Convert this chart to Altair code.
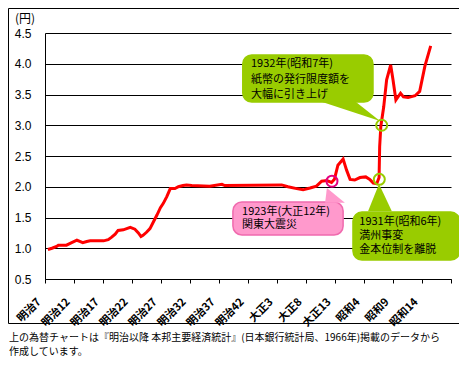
import altair as alt
import pandas as pd

# ---- data ----
years = [1874.0, 1874.7, 1875.5, 1875.8, 1877.2, 1878.1, 1879.0, 1879.5, 1880.0, 1880.7,
         1881.3, 1883.6, 1884.4, 1885.0, 1885.6, 1886.1, 1887.0, 1888.2, 1889.0, 1889.6,
         1890.05, 1890.4, 1891.0, 1891.6, 1892.2, 1892.8, 1893.4, 1893.9, 1894.5, 1895.1,
         1895.9, 1896.5, 1897.3, 1897.9, 1898.8, 1901.9, 1904.0, 1904.5, 1914.3, 1915.4,
         1916.9, 1918.0, 1919.2, 1920.3, 1921.2, 1922.1, 1922.9, 1923.4, 1924.0, 1924.9,
         1925.5, 1926.1, 1926.9, 1927.8, 1928.8, 1929.5, 1930.1, 1930.7, 1931.1, 1931.2,
         1931.4, 1931.9, 1932.4, 1933.1, 1933.5, 1934.0, 1934.8, 1935.3, 1936.1, 1937.3,
         1938.1, 1939.0, 1940.0]
rates = [0.98, 1.00, 1.03, 1.05, 1.05, 1.09, 1.13, 1.11, 1.09, 1.11,
         1.12, 1.12, 1.14, 1.18, 1.23, 1.29, 1.30, 1.34, 1.31, 1.25,
         1.19, 1.21, 1.26, 1.32, 1.43, 1.54, 1.66, 1.73, 1.84, 1.97,
         1.97, 2.00, 2.02, 2.03, 2.02, 2.01, 2.04, 2.02, 2.03, 2.00,
         1.97, 1.95, 1.98, 2.01, 2.09, 2.10, 2.07, 2.12, 2.35, 2.45,
         2.27, 2.12, 2.11, 2.15, 2.16, 2.12, 2.06, 2.05, 2.15, 2.65,
         2.98, 3.30, 3.74, 3.98, 3.74, 3.41, 3.52, 3.46, 3.45, 3.48,
         3.55, 3.96, 4.29]

tick_positions = [1873.5 + 5 * k for k in range(15)]
tick_labels = ["明治7", "明治12", "明治17", "明治22", "明治27", "明治32", "明治37",
               "明治42", "大正3", "大正8", "大正13", "昭和4", "昭和9", "昭和14"]
y_ticks = [0.5, 1.0, 1.5, 2.0, 2.5, 3.0, 3.5, 4.0, 4.5]

# highlighted points (circles)
circle_years = [1922.98, 1931.14, 1931.55]
circle_vals = [2.09, 2.12, 3.00]
circle_colors = ["#E4007F", "#99CC00", "#99CC00"]

# callouts
callout_fill = ["#FF99CC", "#99CC00", "#99CC00"]
callout_stroke = ["#F06AAE", "#99CC00", "#99CC00"]
box_x1 = [1905.9, 1907.6, 1926.6]
box_x2 = [1924.9, 1930.05, 1945.0]
box_y1 = [1.752, 4.142, 1.589]
box_y2 = [1.215, 3.378, 0.809]
ptr_base_val = [1.74, 3.39, 1.60]
ptr_base_x1 = [1921.8, 1920.9, 1929.2]
ptr_base_x2 = [1925.2, 1926.95, 1933.3]
ptr_apex_x = [1922.1, 1931.26, 1931.09]
ptr_apex_val = [1.98, 3.07, 2.045]
callout_text = [
    ["1923年(大正12年)", "関東大震災"],
    ["1932年(昭和7年)", "紙幣の発行限度額を", "大幅に引き上げ"],
    ["1931年(昭和6年)", "満州事変", "金本位制を離脱"],
]
text_x = [1907.47, 1909.02, 1927.69]
text_vals = [[1.585, 1.374], [3.996, 3.736, 3.50], [1.425, 1.204, 0.970]]

unit_label = "(円)"
caption_lines = ["上の為替チャートは『明治以降 本邦主要経済統計』(日本銀行統計局、1966年)掲載のデータから",
                 "作成しています。"]

JP = "Noto Sans CJK JP"

xscale = alt.Scale(domain=[1873.5, 1943.5], nice=False, zero=False)
yscale = alt.Scale(domain=[0.5, 4.5], nice=False, zero=False)

label_expr = "[" + ",".join("'%s'" % l for l in tick_labels) + "][round((datum.value-1873.5)/5)] || ''"

xaxis = alt.Axis(values=tick_positions, labelExpr=label_expr, grid=False, ticks=True,
                 tickSize=4, tickColor="black", domainColor="black", labelAngle=-45,
                 labelAlign="right", labelBaseline="middle", labelPadding=17,
                 labelOffset=-6, labelFont=JP, labelFontSize=11, labelFontWeight="bold",
                 labelColor="black",
                 title=None, labelOverlap=False, labelBound=False, labelFlush=False)
yaxis = alt.Axis(values=y_ticks, format=".1f", grid=True, gridColor="black", gridWidth=1,
                 ticks=False, domainColor="black", labelPadding=14, labelFont="Liberation Sans",
                 labelFontSize=12, labelColor="black", title=None, labelOverlap=False,
                 labelFlush=False, labelBound=False)


def X(field):
    return alt.X(field, scale=xscale, axis=xaxis)


def Y(field):
    return alt.Y(field, scale=yscale, axis=yaxis)


df = pd.DataFrame({"year": years, "rate": rates})
line = alt.Chart(df).mark_line(color="#FF0000", strokeWidth=3).encode(
    x=X("year:Q"), y=Y("rate:Q"))

layers = [line]

# callout boxes, pointers, text
for i in range(3):
    bdf = pd.DataFrame({"x1": [box_x1[i]], "x2": [box_x2[i]], "y1": [box_y1[i]], "y2": [box_y2[i]]})
    box = alt.Chart(bdf).mark_rect(fill=callout_fill[i], stroke=callout_stroke[i], strokeWidth=1.5,
                                   cornerRadius=9, clip=False).encode(
        x=X("x1:Q"), x2="x2:Q", y=Y("y1:Q"), y2="y2:Q")
    pdf = pd.DataFrame({"v": [ptr_base_val[i], ptr_apex_val[i]],
                        "xa": [ptr_base_x1[i], ptr_apex_x[i]],
                        "xb": [ptr_base_x2[i], ptr_apex_x[i]]})
    ptr = alt.Chart(pdf).mark_area(orient="horizontal", color=callout_fill[i], clip=False).encode(
        y=Y("v:Q"), x=X("xa:Q"), x2="xb:Q")
    tdf = pd.DataFrame({"t": callout_text[i], "x": [text_x[i]] * len(callout_text[i]),
                        "v": text_vals[i]})
    txt = alt.Chart(tdf).mark_text(align="left", baseline="middle", font=JP, fontSize=11,
                                   color="black", clip=False).encode(
        x=X("x:Q"), y=Y("v:Q"), text="t:N")
    layers += [box, ptr, txt]

cdf = pd.DataFrame({"year": circle_years, "val": circle_vals, "c": circle_colors})
circles = alt.Chart(cdf).mark_point(shape="circle", filled=False, size=121, strokeWidth=2,
                                    opacity=1).encode(
    x=X("year:Q"), y=Y("val:Q"), color=alt.Color("c:N", scale=None))
layers.append(circles)

# unit label
unit = alt.Chart(pd.DataFrame({"t": [unit_label]})).mark_text(
    font=JP, fontSize=12, color="black", align="center", baseline="middle").encode(
    text="t:N", x=alt.value(-20), y=alt.value(-14))
layers.append(unit)

# outer frame
frame = alt.Chart(pd.DataFrame({"a": [0]})).mark_rect(
    fillOpacity=0, stroke="black", strokeWidth=1).encode(
    x=alt.value(-36.5), x2=alt.value(417), y=alt.value(-24.5), y2=alt.value(290.5))
layers.append(frame)

# caption
for k, ln in enumerate(caption_lines):
    cap = alt.Chart(pd.DataFrame({"t": [ln]})).mark_text(
        font=JP, fontSize=10, color="black", align="left", baseline="middle").encode(
        text="t:N", x=alt.value(-36), y=alt.value([305, 319][k]))
    layers.append(cap)

chart = alt.layer(*layers).properties(
    width=406, height=246,
    autosize=alt.AutoSizeParams(type="none"),
    padding={"left": 37, "top": 25, "right": 8, "bottom": 79},
    background="white",
).configure_view(stroke=None)

chart.save("out.html", embed_options={"renderer": "svg", "actions": False})
